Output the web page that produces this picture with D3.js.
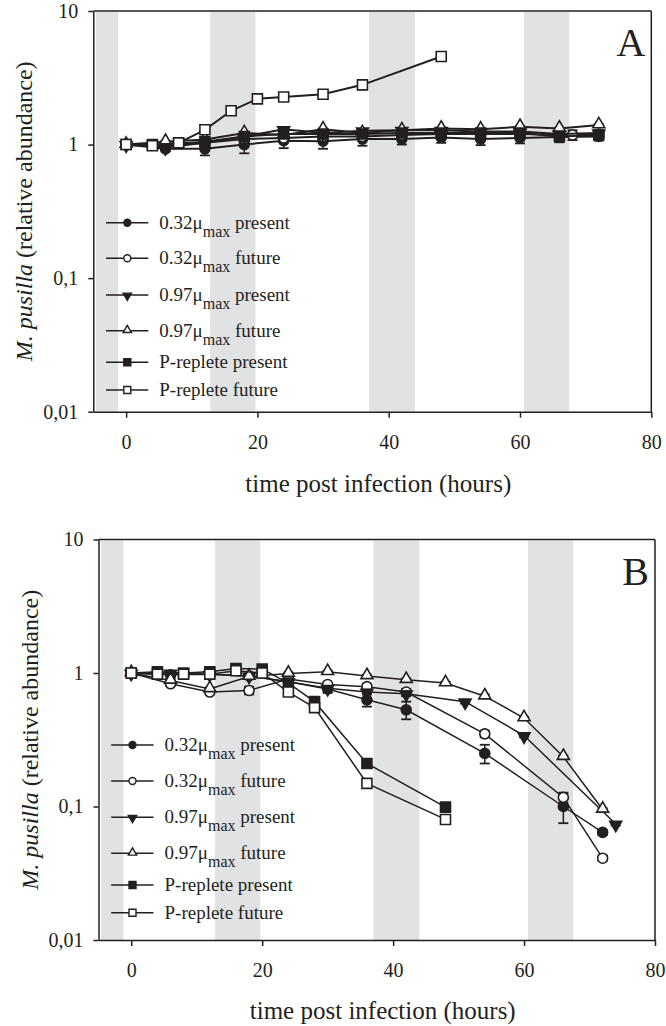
<!DOCTYPE html>
<html>
<head>
<meta charset="utf-8">
<script src="https://cdn.jsdelivr.net/npm/d3@7/dist/d3.min.js"></script>
<style>
  html, body { margin: 0; padding: 0; background: #fff; }
  svg { display: block; }
  text { font-family: "Liberation Serif", "Times New Roman", serif; fill: #231f20; }
</style>
</head>
<body>
<svg id="chart" width="666" height="1026"></svg>
<script>
// ---------------- DATA ----------------
const seriesLabels = ["0.32", "0.32", "0.97", "0.97", "P-replete", "P-replete"];
const seriesConds  = ["present", "future", "present", "future", "present", "future"];
const seriesShapes = ["circle", "circle", "triDown", "triUp", "square", "square"];
const seriesFilled = [true, false, true, false, true, false];

const xTicks = [0, 20, 40, 60, 80];
const yTicks = [0.01, 0.1, 1, 10];
const yTickLabels = ["0,01", "0,1", "1", "10"];
const darkBands = [[-4.6, -1.2], [12.8, 19.7], [37.0, 44.0], [60.6, 67.5]];

// Panel A
const tA_032p = [0, 6, 12, 18, 24, 30, 36, 42, 48, 54, 60, 66, 72];
const vA_032p = [1, 0.93, 0.93, 1.0, 1.07, 1.06, 1.1, 1.1, 1.13, 1.1, 1.12, 1.14, 1.15];
const eA_032p = [0, 0.04, 0.1, 0.14, 0.13, 0.13, 0.12, 0.1, 0.1, 0.11, 0.1, 0.1, 0.08];
const tA_032f = [0, 6, 12, 18, 24, 30, 36, 42, 48, 54, 60, 68, 72];
const vA_032f = [1, 0.98, 1.03, 1.1, 1.12, 1.15, 1.15, 1.18, 1.2, 1.2, 1.2, 1.18, 1.2];
const eA_032f = [0, 0.02, 0.03, 0.03, 0.04, 0.03, 0.03, 0.04, 0.03, 0.03, 0.03, 0.1, 0.03];
const tA_097p = [0, 6, 12, 18, 24, 30, 36, 42, 48, 54, 60, 66, 72];
const vA_097p = [1, 0.95, 1.03, 1.15, 1.3, 1.22, 1.27, 1.28, 1.28, 1.25, 1.25, 1.2, 1.22];
const eA_097p = [0, 0.03, 0.03, 0.03, 0.04, 0.03, 0.04, 0.04, 0.04, 0.03, 0.04, 0.04, 0.04];
const tA_097f = [0, 6, 12, 18, 24, 30, 36, 42, 48, 54, 60, 66, 72];
const vA_097f = [1, 1.05, 1.09, 1.22, 1.18, 1.3, 1.22, 1.28, 1.32, 1.3, 1.36, 1.32, 1.4];
const eA_097f = [0, 0.02, 0.02, 0.02, 0.02, 0.02, 0.02, 0.02, 0.02, 0.02, 0.02, 0.02, 0.02];
const tA_Pp = [0, 4, 8, 12, 18, 24, 30, 36, 42, 48, 54, 60, 66, 72];
const vA_Pp = [1, 1.0, 1.02, 1.05, 1.15, 1.2, 1.2, 1.2, 1.22, 1.22, 1.22, 1.22, 1.15, 1.18];
const eA_Pp = [0, 0.02, 0.02, 0.02, 0.02, 0.02, 0.02, 0.02, 0.02, 0.02, 0.02, 0.02, 0.03, 0.03];
const tA_Pf = [0, 4, 8, 12, 16, 20, 24, 30, 36, 48];
const vA_Pf = [1, 0.98, 1.03, 1.29, 1.79, 2.2, 2.27, 2.38, 2.8, 4.56];
const eA_Pf = [0, 0, 0, 0, 0, 0, 0, 0, 0, 0];

// Panel B
const tB_032p = [0, 6, 12, 18, 24, 30, 36, 42, 54, 66, 72];
const vB_032p = [1, 0.97, 0.98, 0.95, 0.86, 0.76, 0.63, 0.53, 0.25, 0.10, 0.064];
const eB_032p = [0, 0.05, 0.04, 0.03, 0.04, 0.05, 0.07, 0.08, 0.04, 0.025, 0.003];
const tB_032f = [0, 6, 12, 18, 24, 30, 36, 42, 54, 66, 72];
const vB_032f = [1, 0.83, 0.72, 0.74, 0.9, 0.82, 0.79, 0.72, 0.35, 0.117, 0.041];
const eB_032f = [0, 0.03, 0.03, 0.05, 0.03, 0.03, 0.04, 0.04, 0.02, 0.01, 0.002];
const tB_097p = [0, 6, 12, 18, 24, 30, 36, 42, 51, 60, 74];
const vB_097p = [1, 1.0, 0.98, 0.95, 0.86, 0.77, 0.72, 0.70, 0.61, 0.34, 0.074];
const eB_097p = [0, 0.03, 0.03, 0.03, 0.03, 0.03, 0.03, 0.03, 0.02, 0.01, 0.002];
const tB_097f = [0, 6, 12, 18, 24, 30, 36, 42, 48, 54, 60, 66, 72];
const vB_097f = [1, 0.88, 0.76, 0.94, 0.99, 1.02, 0.95, 0.89, 0.84, 0.67, 0.46, 0.236, 0.095];
const eB_097f = [0, 0.02, 0.02, 0.02, 0.02, 0.02, 0.02, 0.02, 0.02, 0.02, 0.01, 0.005, 0.002];
const tB_Pp = [0, 4, 8, 12, 16, 20, 24, 28, 36, 48];
const vB_Pp = [1, 1.02, 1.0, 1.02, 1.08, 1.07, 0.84, 0.61, 0.21, 0.099];
const eB_Pp = [0, 0.02, 0.02, 0.06, 0.02, 0.02, 0.02, 0.02, 0.005, 0.002];
const tB_Pf = [0, 4, 8, 12, 16, 20, 24, 28, 36, 48];
const vB_Pf = [1, 0.98, 0.98, 0.98, 1.04, 1.0, 0.72, 0.55, 0.149, 0.080];
const eB_Pf = [0, 0, 0, 0, 0, 0, 0, 0, 0, 0];

// ---------------- DRAWING ----------------
const svg = d3.select("#chart");
const INK = "#231f20";
const BAND = "#e1e2e4";

function buildSeries(ts, vs, es) {
  return ts.map((t, i) => ({ t: t, v: vs[i], e: es[i] }));
}

const panels = [
  {
    letter: "A",
    left: 93.3, right: 651.3, top: 11, bottom: 411.7,
    legendY: [222.7, 258.3, 295, 330.7, 362.3, 390],
    titleY: 492,
    series: [
      buildSeries(tA_032p, vA_032p, eA_032p),
      buildSeries(tA_032f, vA_032f, eA_032f),
      buildSeries(tA_097p, vA_097p, eA_097p),
      buildSeries(tA_097f, vA_097f, eA_097f),
      buildSeries(tA_Pp, vA_Pp, eA_Pp),
      buildSeries(tA_Pf, vA_Pf, eA_Pf)
    ],
    lineW: 2
  },
  {
    letter: "B",
    left: 98.5, right: 655, top: 539.5, bottom: 940,
    legendY: [745, 781, 817.3, 853.3, 885, 912.7],
    titleY: 1019,
    series: [
      buildSeries(tB_032p, vB_032p, eB_032p),
      buildSeries(tB_032f, vB_032f, eB_032f),
      buildSeries(tB_097p, vB_097p, eB_097p),
      buildSeries(tB_097f, vB_097f, eB_097f),
      buildSeries(tB_Pp, vB_Pp, eB_Pp),
      buildSeries(tB_Pf, vB_Pf, eB_Pf)
    ],
    lineW: 1.5
  }
];

function markerPath(shape, s) {
  if (shape === "circle") return d3.symbol(d3.symbolCircle, Math.PI * (s / 2) * (s / 2))();
  if (shape === "square") return d3.symbol(d3.symbolSquare, s * s)();
  const side = s * 1.2;
  const area = Math.sqrt(3) / 4 * side * side;
  return d3.symbol(d3.symbolTriangle, area)();
}

function drawMarker(g, shape, filled, cx, cy, s, sw) {
  const p = g.append("path")
    .attr("d", markerPath(shape, s))
    .attr("fill", filled ? INK : "#fff")
    .attr("stroke", INK)
    .attr("stroke-width", sw);
  let tr = `translate(${cx},${cy})`;
  if (shape === "triDown") tr += " rotate(180)";
  if (shape === "triUp" || shape === "triDown") tr += ` translate(0,${-s * 0.08})`;
  p.attr("transform", tr);
}

panels.forEach(P => {
  const x = d3.scaleLinear().domain([-5, 80]).range([P.left, P.right]);
  const y = d3.scaleLog().domain([0.01, 10]).range([P.bottom, P.top]);
  const g = svg.append("g");

  g.selectAll("rect.band").data(darkBands).enter().append("rect")
    .attr("x", d => x(d[0]))
    .attr("width", d => x(d[1]) - x(d[0]))
    .attr("y", P.top + 1)
    .attr("height", P.bottom - P.top - 1)
    .attr("fill", BAND);

  const xAxis = d3.axisBottom(x).tickValues(xTicks).tickSize(6).tickSizeOuter(0).tickPadding(17);
  const gx = g.append("g").attr("transform", `translate(0,${P.bottom})`).call(xAxis);
  const yAxis = d3.axisLeft(y).tickValues(yTicks)
    .tickFormat(d => yTickLabels[yTicks.indexOf(d)])
    .tickSize(5).tickSizeOuter(0).tickPadding(10);
  const gy = g.append("g").attr("transform", `translate(${P.left},0)`).call(yAxis);
  [gx, gy].forEach(a => {
    a.select(".domain").attr("stroke", INK).attr("stroke-width", 1.5);
    a.selectAll(".tick line").attr("stroke", INK).attr("stroke-width", 1.5);
    a.selectAll(".tick text").attr("font-size", 20).attr("fill", INK)
      .attr("font-family", "Liberation Serif, serif");
  });
  g.append("line").attr("x1", P.left).attr("x2", P.right).attr("y1", P.top).attr("y2", P.top)
    .attr("stroke", INK).attr("stroke-width", 1.5);
  g.append("line").attr("x1", P.right).attr("x2", P.right).attr("y1", P.top).attr("y2", P.bottom)
    .attr("stroke", INK).attr("stroke-width", 1.5);

  g.append("text")
    .attr("x", (P.left + P.right) / 2 + 6)
    .attr("y", P.titleY)
    .attr("text-anchor", "middle")
    .attr("font-size", 25)
    .text("time post infection (hours)");
  const yt = g.append("text")
    .attr("transform", `translate(${P.left - 61},${(P.top + P.bottom) / 2}) rotate(-90)`)
    .attr("text-anchor", "middle")
    .attr("font-size", 24);
  yt.append("tspan").attr("font-style", "italic").text("M. pusilla");
  yt.append("tspan").text(" (relative abundance)");

  g.append("text")
    .attr("x", P.right - 6)
    .attr("y", P.top + 45)
    .attr("text-anchor", "end")
    .attr("font-size", 40)
    .text(P.letter);

  const line = d3.line().x(d => x(d.t)).y(d => y(d.v));
  P.series.forEach((data, si) => {
    const sg = g.append("g");
    data.filter(d => d.e > 0).forEach(d => {
      const y1 = y(d.v + d.e), y2 = y(Math.max(d.v - d.e, 0.0011));
      const cx = x(d.t);
      sg.append("line").attr("x1", cx).attr("x2", cx).attr("y1", y1).attr("y2", y2)
        .attr("stroke", INK).attr("stroke-width", 1.5);
      [y1, y2].forEach(yy => sg.append("line").attr("x1", cx - 5).attr("x2", cx + 5)
        .attr("y1", yy).attr("y2", yy).attr("stroke", INK).attr("stroke-width", 1.8));
    });
    sg.append("path").datum(data).attr("d", line)
      .attr("fill", "none").attr("stroke", INK).attr("stroke-width", P.lineW);
    data.forEach(d => drawMarker(sg, seriesShapes[si], seriesFilled[si], x(d.t), y(d.v), 10, 1.6));
  });

  const lx0 = P.left + 12.7, lx1 = P.left + 55, lm = P.left + 34, ltx = P.left + 66;
  seriesLabels.forEach((lab, i) => {
    const ly = P.legendY[i];
    g.append("line").attr("x1", lx0).attr("x2", lx1).attr("y1", ly).attr("y2", ly)
      .attr("stroke", INK).attr("stroke-width", 1.5);
    drawMarker(g, seriesShapes[i], seriesFilled[i], lm, ly, 7, 1.4);
    const t = g.append("text").attr("x", ltx).attr("y", ly + 6).attr("font-size", 19);
    if (lab === "P-replete") {
      t.text(lab + " " + seriesConds[i]);
    } else {
      t.append("tspan").text(lab + "μ");
      t.append("tspan").attr("font-size", 16).attr("dy", 8).text("max");
      t.append("tspan").attr("dy", -8).text(" " + seriesConds[i]);
    }
  });
});
</script>
</body>
</html>
